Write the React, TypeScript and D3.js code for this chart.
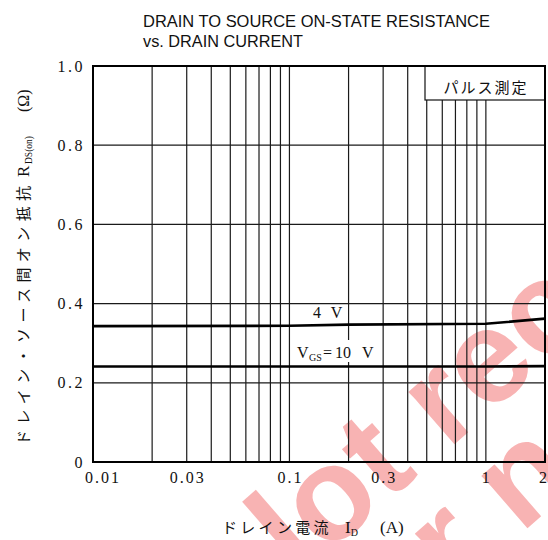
import React from 'react';
import * as d3 from 'd3';

// ---- data ----
const titleLines = ['DRAIN TO SOURCE ON-STATE RESISTANCE', 'vs. DRAIN CURRENT'];
const xTickValues = [0.01, 0.03, 0.1, 0.3, 1, 2];
const xTickLabels = ['0.01', '0.03', '0.1', '0.3', '1', '2'];
const yTickValues = [0, 0.2, 0.4, 0.6, 0.8, 1.0];
const yTickLabels = ['0', '0.2', '0.4', '0.6', '0.8', '1.0'];
const xGridValues = [0.02, 0.03, 0.04, 0.05, 0.06, 0.07, 0.08, 0.09, 0.1, 0.2, 0.3, 0.4, 0.5, 0.6, 0.7, 0.8, 0.9, 1];
const yGridValues = [0.2, 0.4, 0.6, 0.8];
const current4V = [0.01, 0.1, 0.2, 1, 2];
const rds4V = [0.343, 0.344, 0.347, 0.349, 0.362];
const current10V = [0.01, 0.1, 1, 2];
const rds10V = [0.241, 0.241, 0.241, 0.242];
const legendText = 'パルス測定';
const watermarkLines = ['lot rec', 'r n'];

const W = 548;
const H = 540;
const L = 93, R = 545, T = 66, B = 462;

const x = d3.scaleLog().domain([0.01, 2]).range([L, R]);
const y = d3.scaleLinear().domain([0, 1]).range([B, T]);

const line = d3.line<[number, number]>().x(d => x(d[0])).y(d => y(d[1]));

const serif = '"Liberation Serif", "DejaVu Serif", serif';
const sans = '"Liberation Sans", Arial, sans-serif';
const cjk = '"Noto Sans CJK JP", "Noto Sans CJK SC", sans-serif';

export default function App() {
  const s4 = current4V.map((c, i) => [c, rds4V[i]] as [number, number]);
  const s10 = current10V.map((c, i) => [c, rds10V[i]] as [number, number]);
  const wmAngle = -41;
  const wmColor = '#f8b3b3';
  return (
    <svg width={W} height={H} style={{ position: 'absolute', left: 0, top: 0, background: '#fff' }}>
      <rect x={0} y={0} width={W} height={H} fill="#fff" />
      {/* watermark */}
      <g fill={wmColor} fontFamily={sans} fontWeight="bold" fontSize={132}>
        <text transform={`translate(298,580) rotate(${wmAngle})`}>{watermarkLines[0]}</text>
        <text transform={`translate(454,592) rotate(${wmAngle})`}>{watermarkLines[1]}</text>
      </g>
      {/* title */}
      <g fontFamily={sans} fontSize={16} fill="#111">
        <text x={143} y={27} textLength={347} lengthAdjust="spacingAndGlyphs">{titleLines[0]}</text>
        <text x={143} y={47} textLength={160} lengthAdjust="spacingAndGlyphs">{titleLines[1]}</text>
      </g>
      {/* grid */}
      <g stroke="#1a1a1a" strokeWidth={1.2}>
        {xGridValues.map(v => (
          <line key={'gx' + v} x1={x(v)} x2={x(v)} y1={T} y2={B} />
        ))}
        {yGridValues.map(v => (
          <line key={'gy' + v} x1={L} x2={R} y1={y(v)} y2={y(v)} />
        ))}
      </g>
      {/* legend box */}
      <rect x={425} y={T} width={R - 425} height={34} fill="#fff" stroke="#111" strokeWidth={1.2} />
      <text x={486} y={93} textAnchor="middle" fontFamily={cjk} fontSize={15} letterSpacing={2} fill="#111">{legendText}</text>
      {/* curve labels with white backgrounds */}
      <rect x={311} y={305} width={37} height={16} fill="#fff" />
      <text x={313} y={318} fontFamily={serif} fontSize={16} letterSpacing={3} fill="#111">4 V</text>
      <rect x={295} y={340} width={86} height={22} fill="#fff" />
      <text y={358} fontFamily={serif} fontSize={16} fill="#111">
        <tspan x={297}>V</tspan>
        <tspan x={309} dy={3} fontSize={10}>GS</tspan>
        <tspan x={323} dy={-3}>=</tspan>
        <tspan x={335}>10</tspan>
        <tspan x={362}>V</tspan>
      </text>
      {/* curves */}
      <path d={line(s4) || ''} fill="none" stroke="#000" strokeWidth={2.6} />
      <path d={line(s10) || ''} fill="none" stroke="#000" strokeWidth={2.6} />
      {/* frame */}
      <rect x={L} y={T} width={R - L} height={B - T} fill="none" stroke="#000" strokeWidth={2} />
      {/* y tick labels */}
      <g fontFamily={serif} fontSize={16} fill="#111" textAnchor="end" letterSpacing={2.5}>
        {yTickValues.map((v, i) => (
          <text key={'yt' + v} x={85} y={y(v) + 5.5}>{yTickLabels[i]}</text>
        ))}
      </g>
      {/* x tick labels */}
      <g fontFamily={serif} fontSize={16} fill="#111" letterSpacing={2}>
        {xTickValues.map((v, i) => {
          const first = i === 0;
          const last = i === xTickValues.length - 1;
          return (
            <text key={'xt' + v} x={first ? 85 : last ? x(v) - 1 : x(v) + 1} y={483} textAnchor={first ? 'start' : 'middle'}>
              {xTickLabels[i]}
            </text>
          );
        })}
      </g>
      {/* x axis title */}
      <text y={533} fill="#111">
        <tspan x={222} fontFamily={cjk} fontSize={15} letterSpacing={3.3}>ドレイン電流</tspan>
        <tspan x={345} fontFamily={serif} fontSize={17}>I</tspan>
        <tspan dy={3} fontFamily={serif} fontSize={10}>D</tspan>
        <tspan x={380} dy={-3} fontFamily={serif} fontSize={17}>(A)</tspan>
      </text>
      {/* y axis title */}
      <text transform="translate(29,445) rotate(-90)" fill="#111">
        <tspan x={0} fontFamily={cjk} fontSize={15} letterSpacing={5.4}>ドレイン・ソース間オン抵抗</tspan>
        <tspan x={268} fontFamily={serif} fontSize={17}>R</tspan>
        <tspan x={281} dy={3} fontFamily={serif} fontSize={9.5}>DS(on)</tspan>
        <tspan x={333} dy={-3} fontFamily={serif} fontSize={16}>(Ω)</tspan>
      </text>
    </svg>
  );
}
